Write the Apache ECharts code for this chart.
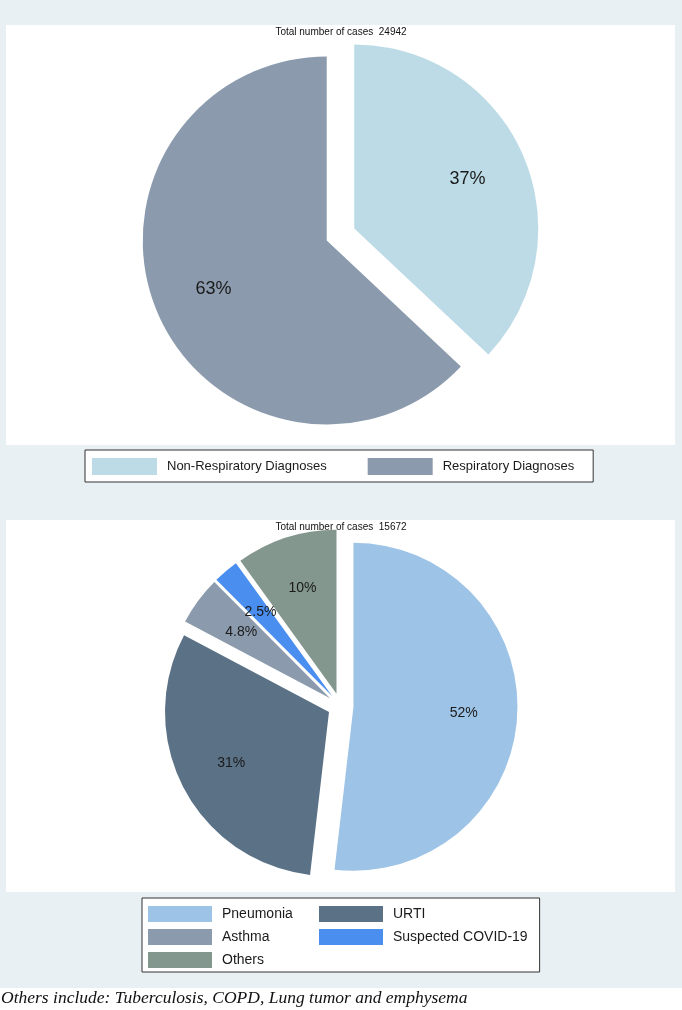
<!DOCTYPE html>
<html>
<head>
<meta charset="utf-8">
<title>Diagnoses</title>
<script src="https://cdn.jsdelivr.net/npm/echarts@6/dist/echarts.min.js"></script>
<style>
  html, body { margin: 0; padding: 0; background: #fff; }
  #chart { width: 682px; height: 1010px; }
</style>
</head>
<body>
<div id="chart"></div>
<script>
// top pie - all diagnoses
const topTotal = 24942
const topNames = ['Non-Respiratory Diagnoses', 'Respiratory Diagnoses']
const topValues = [37, 63]
const topColors = ['#bcdbe6', '#8b9bad']

// bottom pie - respiratory diagnoses
const bottomTotal = 15672
const bottomNames = ['Pneumonia', 'URTI', 'Asthma', 'Suspected COVID-19', 'Others']
const bottomValues = [52, 31, 4.8, 2.5, 10]
const bottomColors = ['#9dc3e6', '#5a7186', '#8b9bad', '#4a8ef0', '#84978e']

const caption = 'Others include: Tuberculosis, COPD, Lung tumor and emphysema'

function pieData(names, values, colors) {
  return names.map((name, i) => ({
    name: name,
    value: values[i],
    selected: true,
    itemStyle: { color: colors[i] }
  }))
}

function labelData(names, values) {
  return names.map((name, i) => ({
    name: name,
    value: values[i],
    selected: true,
    itemStyle: { color: 'rgba(0,0,0,0)' }
  }))
}

// the slices themselves
function pieSeries(names, values, colors, center, radius, offset) {
  return {
    type: 'pie',
    center: center,
    radius: radius,
    startAngle: 90,
    clockwise: true,
    selectedMode: 'multiple',
    selectedOffset: offset,
    silent: true,
    label: { show: false },
    labelLine: { show: false },
    emphasis: { disabled: true },
    select: { itemStyle: { borderWidth: 0 } },
    data: pieData(names, values, colors)
  }
}

// transparent copy only used to put the % labels further out
function labelSeries(names, values, center, radius, offset, fontSize) {
  return {
    type: 'pie',
    center: center,
    radius: radius,
    startAngle: 90,
    clockwise: true,
    selectedMode: 'multiple',
    selectedOffset: offset,
    silent: true,
    avoidLabelOverlap: false,
    label: {
      show: true,
      position: 'inside',
      formatter: '{c}%',
      color: '#1a1a1a',
      fontFamily: 'Liberation Sans',
      fontSize: fontSize
    },
    labelLine: { show: false },
    emphasis: { disabled: true },
    select: { itemStyle: { borderWidth: 0 } },
    data: labelData(names, values)
  }
}

const chart = echarts.init(document.getElementById('chart'), null, { renderer: 'canvas' })

chart.setOption({
  animation: false,
  backgroundColor: '#e9f0f3',
  graphic: [
    { type: 'rect', shape: { x: 6, y: 25, width: 669, height: 420 }, style: { fill: '#fff' }, z: -10 },
    { type: 'rect', shape: { x: 6, y: 520, width: 669, height: 372 }, style: { fill: '#fff' }, z: -10 },
    { type: 'rect', shape: { x: 0, y: 988, width: 682, height: 22 }, style: { fill: '#fff' }, z: -10 },
    {
      type: 'text',
      left: 1,
      top: 989,
      style: {
        text: caption,
        font: 'italic 17.5px "Liberation Serif"',
        fill: '#111'
      }
    }
  ],
  title: [
    {
      text: 'Total number of cases  ' + topTotal,
      left: 'center',
      top: 27,
      padding: 0,
      textStyle: { fontFamily: 'Liberation Sans', fontSize: 10, fontWeight: 'normal', color: '#111' }
    },
    {
      text: 'Total number of cases  ' + bottomTotal,
      left: 'center',
      top: 522,
      padding: 0,
      textStyle: { fontFamily: 'Liberation Sans', fontSize: 10, fontWeight: 'normal', color: '#111' }
    }
  ],
  legend: [
    {
      data: [
        { name: topNames[0], textStyle: { width: 160 } },
        { name: topNames[1] }
      ],
      orient: 'horizontal',
      left: 85,
      top: 450,
      padding: [8, 19, 7, 7],
      itemWidth: 65,
      itemHeight: 17,
      itemGap: 41,
      icon: 'rect',
      selectedMode: false,
      backgroundColor: '#fff',
      borderColor: '#333',
      borderWidth: 1,
      borderRadius: 0,
      textStyle: { fontFamily: 'Liberation Sans', fontSize: 13, color: '#1a1a1a', padding: [0, 0, 0, 5] }
    },
    {
      data: [
        { name: bottomNames[0], textStyle: { width: 90 } },
        { name: bottomNames[1] },
        { name: bottomNames[2], textStyle: { width: 90 } },
        { name: bottomNames[3] },
        { name: bottomNames[4], textStyle: { width: 90 } }
      ],
      orient: 'horizontal',
      left: 142,
      top: 898,
      width: 390,
      padding: [8, 12, 4, 6],
      itemWidth: 64,
      itemHeight: 16,
      itemGap: 7,
      icon: 'rect',
      selectedMode: false,
      backgroundColor: '#fff',
      borderColor: '#333',
      borderWidth: 1,
      borderRadius: 0,
      textStyle: { fontFamily: 'Liberation Sans', fontSize: 14, lineHeight: 16, color: '#1a1a1a', padding: [0, 0, 0, 5] }
    }
  ],
  series: [
    pieSeries(topNames, topValues, topColors, [340.5, 234.5], 184, 15),
    labelSeries(topNames, topValues, [340.5, 234.5], [57, 184], 15, 18),
    pieSeries(bottomNames, bottomValues, bottomColors, [340.5, 706], 164, 13),
    labelSeries(bottomNames, bottomValues, [340.5, 706], [51, 164], 13, 14)
  ]
})
</script>
</body>
</html>
